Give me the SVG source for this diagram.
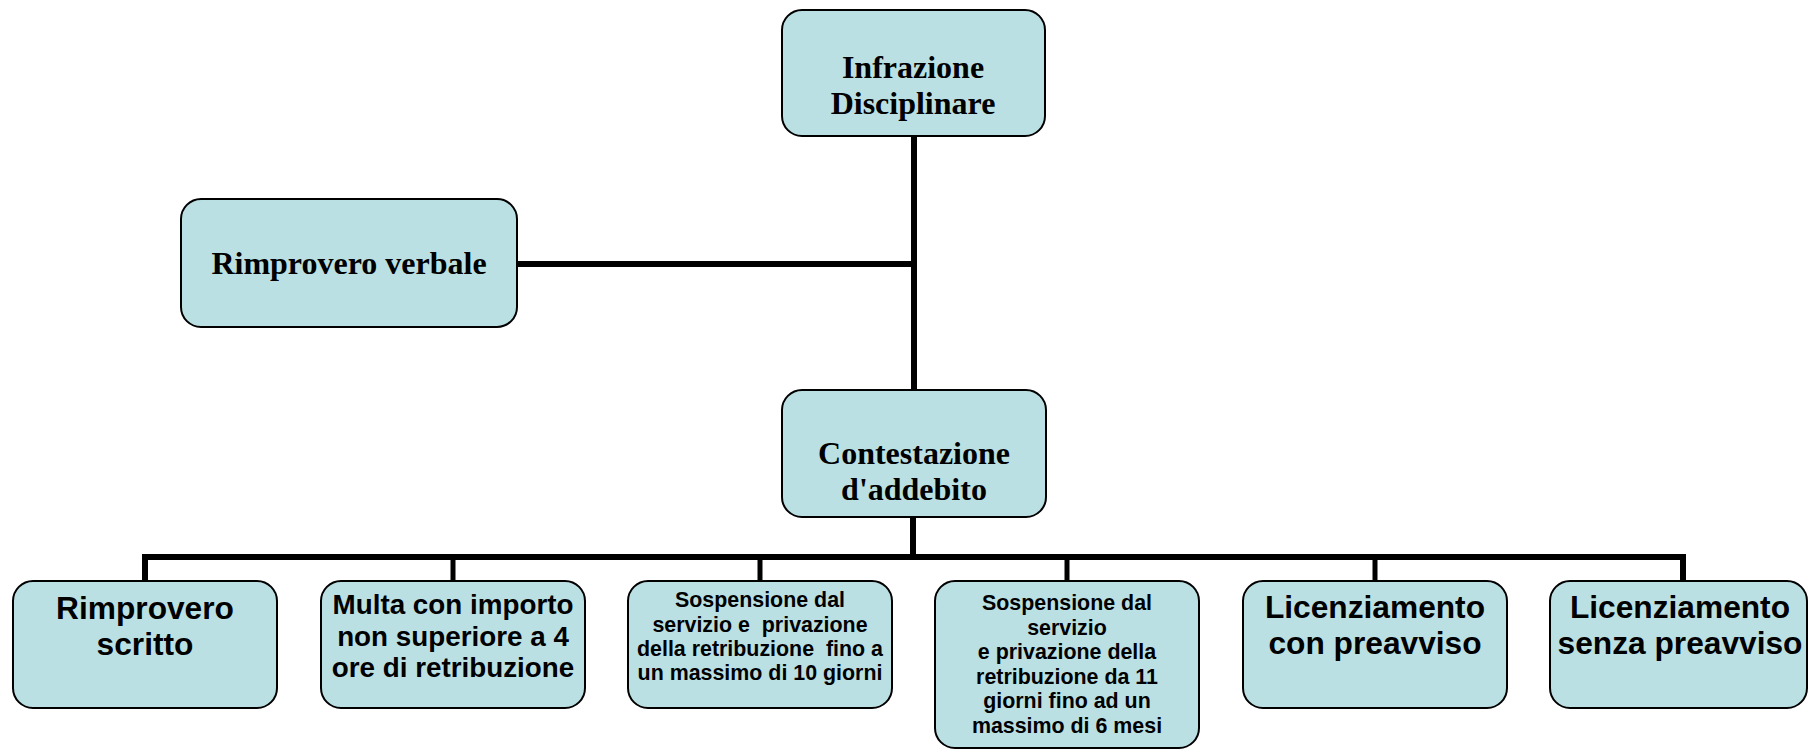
<svg xmlns="http://www.w3.org/2000/svg" width="1809" height="749" viewBox="0 0 1809 749">
<style>
.box{fill:#BBE0E3;stroke:#000;stroke-width:2}
.ser{font-family:"Liberation Serif","Times New Roman",serif;font-weight:bold;font-size:32px;fill:#000;text-anchor:middle}
.san{font-family:"Liberation Sans",Arial,sans-serif;font-weight:bold;fill:#000;text-anchor:middle;white-space:pre}
.big{font-size:31.7px}
.mid{font-size:27.8px}
.sm{font-size:21.4px}
.ln{stroke:#000;stroke-width:6;fill:none}
.dr{stroke:#000;stroke-width:5;fill:none}
</style>
<rect width="1809" height="749" fill="#fff"/>
<g id="connectors">
<line class="ln" x1="914" y1="136" x2="914" y2="390"/>
<line class="ln" x1="517" y1="264" x2="917" y2="264"/>
<line class="ln" x1="913" y1="517" x2="913" y2="557"/>
<polyline class="ln" points="145,581 145,557 1683,557 1683,581"/>
<line class="dr" x1="453" y1="557" x2="453" y2="581"/>
<line class="dr" x1="760" y1="557" x2="760" y2="581"/>
<line class="dr" x1="1067" y1="557" x2="1067" y2="581"/>
<line class="dr" x1="1375" y1="557" x2="1375" y2="581"/>
</g>
<g id="n-infrazione">
<rect class="box" x="782" y="10" width="263" height="126" rx="20"/>
<text class="ser" x="913" y="78">Infrazione</text>
<text class="ser" x="913" y="114">Disciplinare</text>
</g>
<g id="n-verbale">
<rect class="box" x="181" y="199" width="336" height="128" rx="20"/>
<text class="ser" x="349" y="274">Rimprovero verbale</text>
</g>
<g id="n-contestazione">
<rect class="box" x="782" y="390" width="264" height="127" rx="20"/>
<text class="ser" x="914" y="464">Contestazione</text>
<text class="ser" x="914" y="500">d'addebito</text>
</g>
<g id="n-scritto">
<rect class="box" x="13" y="581" width="264" height="127" rx="20"/>
<text class="san big" x="145" y="619">Rimprovero</text>
<text class="san big" x="145" y="655">scritto</text>
</g>
<g id="n-multa">
<rect class="box" x="321" y="581" width="264" height="127" rx="20"/>
<text class="san mid" x="453" y="614">Multa con importo</text>
<text class="san mid" x="453" y="646">non superiore a 4</text>
<text class="san mid" x="453" y="677">ore di retribuzione</text>
</g>
<g id="n-sosp10">
<rect class="box" x="628" y="581" width="264" height="127" rx="20"/>
<text class="san sm" x="760" y="607">Sospensione dal</text>
<text class="san sm" x="760" y="632">servizio e  privazione</text>
<text class="san sm" x="760" y="656">della retribuzione  fino a</text>
<text class="san sm" x="760" y="680">un massimo di 10 giorni</text>
</g>
<g id="n-sosp6">
<rect class="box" x="935" y="581" width="264" height="167" rx="20"/>
<text class="san sm" x="1067" y="610">Sospensione dal</text>
<text class="san sm" x="1067" y="635">servizio</text>
<text class="san sm" x="1067" y="659">e privazione della</text>
<text class="san sm" x="1067" y="684">retribuzione da 11</text>
<text class="san sm" x="1067" y="708">giorni fino ad un</text>
<text class="san sm" x="1067" y="733">massimo di 6 mesi</text>
</g>
<g id="n-lic-con">
<rect class="box" x="1243" y="581" width="264" height="127" rx="20"/>
<text class="san big" x="1375" y="618">Licenziamento</text>
<text class="san big" x="1375" y="654">con preavviso</text>
</g>
<g id="n-lic-senza">
<rect class="box" x="1550" y="581" width="257" height="127" rx="20"/>
<text class="san big" x="1680" y="618">Licenziamento</text>
<text class="san big" x="1680" y="654">senza preavviso</text>
</g>
</svg>
